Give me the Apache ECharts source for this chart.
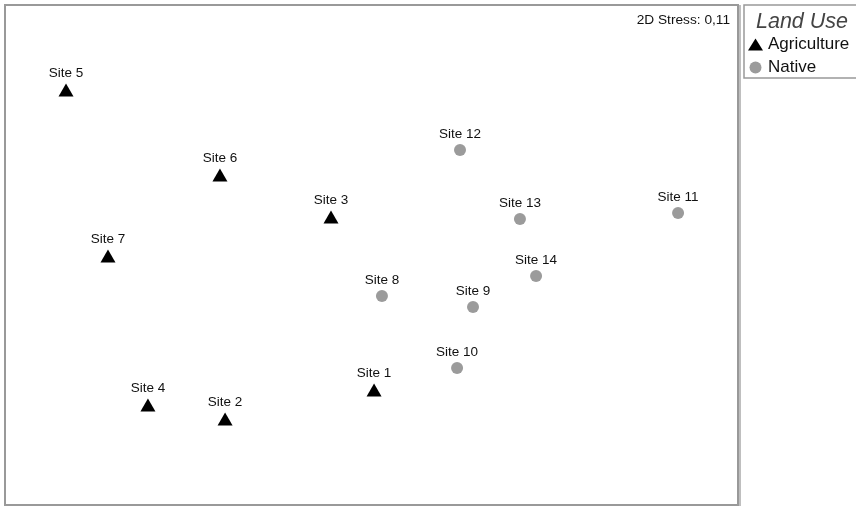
<!DOCTYPE html>
<html>
<head>
<meta charset="utf-8">
<script src="https://cdn.jsdelivr.net/npm/echarts@6/dist/echarts.min.js"></script>
<style>
  html, body { margin: 0; padding: 0; background: #fff; }
  #main { width: 856px; height: 506px; }
</style>
</head>
<body>
<div id="main"></div>
<script>
// NMDS ordination scores
var agriNames = ['Site 1', 'Site 2', 'Site 3', 'Site 4', 'Site 5', 'Site 6', 'Site 7'];
var agriX = [0.014, -0.799, -0.221, -1.220, -1.667, -0.827, -1.438];
var agriY = [-0.756, -0.918, 0.213, -0.840, 0.924, 0.448, -0.006];

var nativeNames = ['Site 8', 'Site 9', 'Site 10', 'Site 11', 'Site 12', 'Site 13', 'Site 14'];
var nativeX = [0.057, 0.554, 0.467, 1.673, 0.483, 0.810, 0.898];
var nativeY = [-0.230, -0.291, -0.633, 0.235, 0.588, 0.202, -0.118];

var stressText = '2D Stress: 0,11';

function toPoints(names, xs, ys) {
  return names.map(function (n, i) { return { name: n, value: [xs[i], ys[i]] }; });
}

var myChart = echarts.init(document.getElementById('main'));

var font = 'Liberation Sans, Arial, sans-serif';
var labelStyle = {
  show: true,
  position: 'top',
  distance: 3,
  formatter: '{b}',
  color: '#111',
  opacity: 1,
  fontSize: 13.5,
  fontFamily: font
};

var option = {
  animation: false,
  title: [
    {
      text: 'Land Use', right: 3, top: 6,
      textStyle: { fontSize: 21.5, fontStyle: 'italic', fontWeight: 'normal', color: '#444', fontFamily: font }
    },
    {
      text: stressText, right: 121, top: 8,
      textStyle: { fontSize: 13.7, fontWeight: 'normal', color: '#111', fontFamily: font }
    }
  ],
  legend: {
    orient: 'vertical',
    left: 748, top: 35,
    padding: 0,
    itemGap: 4,
    itemWidth: 15, itemHeight: 12,
    textStyle: { fontSize: 17, lineHeight: 19, color: '#111', fontFamily: font, padding: 0 },
    data: [
      { name: 'Agriculture', icon: 'triangle' },
      { name: 'Native', icon: 'circle' }
    ]
  },
  graphic: [
    { type: 'rect', shape: { x: 744, y: 5, width: 120, height: 73 }, style: { fill: 'none', stroke: '#999', lineWidth: 1.5 } },
    { type: 'line', shape: { x1: 740, y1: 5, x2: 740, y2: 506 }, style: { stroke: '#aaa', lineWidth: 1.5 } }
  ],
  grid: { left: 5, right: 118, top: 5, bottom: 1, show: true, borderColor: '#999', borderWidth: 2, backgroundColor: '#fff' },
  xAxis: { type: 'value', min: -2, max: 2, show: false, splitLine: { show: false } },
  yAxis: { type: 'value', min: -1.4, max: 1.4, show: false, splitLine: { show: false } },
  series: [
    {
      name: 'Agriculture', type: 'scatter', symbol: 'triangle', symbolSize: [15, 13],
      itemStyle: { color: '#000', opacity: 1 },
      label: labelStyle,
      data: toPoints(agriNames, agriX, agriY)
    },
    {
      name: 'Native', type: 'scatter', symbol: 'circle', symbolSize: 12,
      itemStyle: { color: '#9b9b9b', opacity: 1 },
      label: labelStyle,
      data: toPoints(nativeNames, nativeX, nativeY)
    }
  ]
};
myChart.setOption(option);
</script>
</body>
</html>
